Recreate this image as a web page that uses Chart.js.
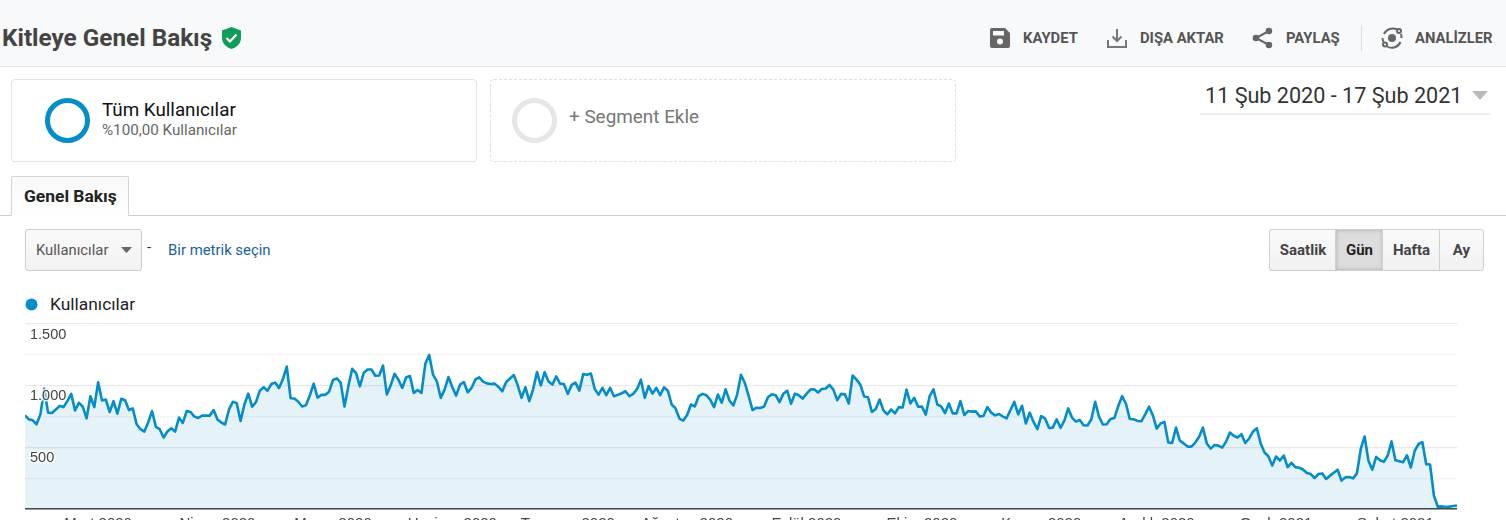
<!DOCTYPE html>
<html lang="tr">
<head>
<meta charset="utf-8">
<title>Kitleye Genel Bakış</title>
<script src="https://cdn.jsdelivr.net/npm/chart.js@4"></script>
<style>
html,body{margin:0;padding:0;width:1506px;height:520px;overflow:hidden;background:#fff;font-family:Roboto,sans-serif;}
.a{position:absolute;white-space:nowrap;}
.hdr{left:0;top:0;width:1506px;height:66px;background:#f8f9fa;border-bottom:1px solid #e4e4e4;}
.act{font-weight:700;font-size:14.8px;color:#555;top:30px;line-height:17px;}
.box{box-sizing:border-box;border-radius:4px;}
.btn{box-sizing:border-box;top:229px;height:42px;line-height:40px;text-align:center;font-weight:700;font-size:15px;color:#444;background:linear-gradient(#fafafa,#f1f1f1);border:1px solid #d0d0d0;}
canvas{position:absolute;left:25px;top:310px;}
</style>
</head>
<body>
<div class="a hdr"></div>
<div class="a" style="left:2px;top:23px;font-size:24.3px;font-weight:700;color:#444;line-height:30px;">Kitleye Genel Bakış</div>
<svg class="a" style="left:221px;top:26px" width="21" height="24" viewBox="0 0 21 24"><path d="M10.5 1 L20 4.5 V12 C20 17.5 15.5 21.5 10.5 23 C5.5 21.5 1 17.5 1 12 V4.5 Z" fill="#0f9d58"/><path d="M5.5 12 L9 15.5 L15.5 8.5" fill="none" stroke="#fff" stroke-width="2.2"/></svg>

<svg class="a" style="left:990px;top:28px" width="20" height="20" viewBox="0 0 20 20"><path d="M2 0 H15 L20 5 V18 a2 2 0 0 1 -2 2 H2 a2 2 0 0 1 -2 -2 V2 a2 2 0 0 1 2 -2 Z" fill="#666"/><rect x="3" y="3" width="11" height="4.5" fill="#f8f9fa"/><circle cx="10" cy="13.5" r="3" fill="#f8f9fa"/></svg>
<div class="a act" style="left:1023px">KAYDET</div>
<svg class="a" style="left:1107px;top:28px" width="20" height="20" viewBox="0 0 20 20" fill="none" stroke="#777" stroke-width="2"><path d="M10 1 V13 M5.5 8.5 L10 13 L14.500 8.500"/><path d="M1 12 V19 H19 V12"/></svg>
<div class="a act" style="left:1140px">DIŞA AKTAR</div>
<svg class="a" style="left:1252px;top:27px" width="21" height="22" viewBox="0 0 21 22"><path d="M17 4 L4 11 L17 18" fill="none" stroke="#666" stroke-width="2"/><circle cx="17" cy="4" r="3.300" fill="#666"/><circle cx="4" cy="11" r="3.300" fill="#666"/><circle cx="17" cy="18" r="3.300" fill="#666"/></svg>
<div class="a act" style="left:1286px">PAYLAŞ</div>
<div class="a" style="left:1361px;top:25px;width:1px;height:26px;background:#ddd"></div>
<svg class="a" style="left:1381px;top:27px" width="22" height="22" viewBox="0 0 22 22" fill="none" stroke="#666" stroke-width="2"><path d="M3 7 A9.500 9.500 0 0 1 16 2.500"/><path d="M19.500 15 A9.500 9.500 0 0 1 6 19.500"/><path d="M1.500 11 A9.500 9.500 0 0 0 2.500 15"/><path d="M20.500 11 A9.500 9.500 0 0 0 20 7"/><circle cx="11" cy="11" r="4" fill="#666" stroke="none"/><circle cx="18" cy="4" r="2"/><circle cx="4" cy="17.500" r="2"/></svg>
<div class="a act" style="left:1415px">ANALİZLER</div>

<div class="a box" style="left:11px;top:79px;width:466px;height:83px;border:1px solid #e2e2e2"></div>
<svg class="a" style="left:45px;top:98px" width="46" height="46"><circle cx="22.500" cy="22.500" r="20" fill="none" stroke="#058dc7" stroke-width="5"/></svg>
<div class="a" style="left:102px;top:99px;font-size:18.8px;line-height:22px;color:#111">Tüm Kullanıcılar</div>
<div class="a" style="left:102px;top:121px;font-size:15.2px;line-height:18px;color:#666">%100,00 Kullanıcılar</div>
<div class="a box" style="left:490px;top:79px;width:466px;height:83px;border:1px dashed #e0e0e0"></div>
<svg class="a" style="left:512px;top:98px" width="46" height="46"><circle cx="22.500" cy="22.500" r="20" fill="none" stroke="#e6e6e6" stroke-width="5"/></svg>
<div class="a" style="left:569px;top:106px;font-size:18.9px;line-height:22px;color:#777">+ Segment Ekle</div>

<div class="a" style="left:1205px;top:82px;font-size:21.6px;line-height:28px;color:#333">11 Şub 2020 - 17 Şub 2021</div>
<svg class="a" style="left:1472px;top:91px" width="16" height="10"><path d="M0 0 H16 L8 9 Z" fill="#bbb"/></svg>
<div class="a" style="left:1200px;top:113px;width:290px;height:1.500px;background:#eee"></div>

<div class="a" style="left:0;top:215px;width:1506px;height:1px;background:#ccc"></div>
<div class="a box" style="left:11px;top:176px;width:118px;height:40px;background:linear-gradient(#f8f8f8,#fff);border:1px solid #d5d5d5;border-bottom:none;border-radius:2px 2px 0 0"></div>
<div class="a" style="left:24px;top:186px;font-size:17.4px;line-height:20px;font-weight:700;color:#222">Genel Bakış</div>

<div class="a box" style="left:25px;top:229px;width:117px;height:42px;background:linear-gradient(#fafafa,#f2f2f2);border:1px solid #ccc;border-radius:3px"></div>
<div class="a" style="left:36px;top:241px;font-size:14.8px;line-height:18px;color:#555">Kullanıcılar</div>
<svg class="a" style="left:121px;top:247px" width="11" height="6"><path d="M0 0 H11 L5.500 6 Z" fill="#666"/></svg>
<div class="a" style="left:147px;top:238px;font-size:15px;line-height:18px;color:#333">-</div>
<div class="a" style="left:168px;top:241px;font-size:14.9px;line-height:18px;color:#1a5f9e">Bir metrik seçin</div>

<div class="a btn" style="left:1269px;width:67px;border-radius:3px 0 0 3px;border-right:none">Saatlik</div>
<div class="a btn" style="left:1335px;width:48px;background:#ddd;box-shadow:inset 0 0 4px #aaa;color:#222;border-right:none">Gün</div>
<div class="a btn" style="left:1382px;width:58px;border-right:none">Hafta</div>
<div class="a btn" style="left:1439px;width:45px;border-radius:0 3px 3px 0">Ay</div>

<svg class="a" style="left:25px;top:298px" width="13" height="13"><circle cx="6.500" cy="6.500" r="6" fill="#058dc7"/></svg>
<div class="a" style="left:50px;top:294px;font-size:17.4px;line-height:20px;color:#222">Kullanıcılar</div>

<canvas id="c" width="1432" height="230" role="img" aria-label="Kullanıcılar"></canvas>
<script>
const seriesName = 'Kullanıcılar';
const monthNames = ['Ocak','Şubat','Mart','Nisan','Mayıs','Haziran','Temmuz','Ağustos','Eylül','Ekim','Kasım','Aralık'];
const yTickLabels = {500:'500',1000:'1.000',1500:'1.500'};
const kullanicilar = [
758,726,718,686,766,974,780,777,806,833,825,873,932,798,860,828,734,913,825,1025,
878,886,785,873,772,892,881,801,814,686,646,627,700,793,665,646,579,627,654,627,
740,697,793,785,748,737,756,756,756,801,724,700,684,806,868,857,713,846,934,828,
865,958,985,958,1012,1023,980,1052,1153,897,894,868,830,841,921,1015,902,924,924,950,
1044,1057,1023,830,993,1135,1100,993,1103,1129,1129,1079,1081,
1161,926,1001,1095,1047,980,1065,1076,940,964,940,1177,1247,1087,1033,900,966,1068,988,918,
1007,1028,945,980,1049,1065,1031,1017,1012,1015,988,953,1028,1057,1084,1001,900,985,873,969,
1108,1001,1108,1033,1007,1073,1015,1012,932,1004,1023,958,1092,1087,1097,972,926,980,921,980,
913,924,937,953,913,932,972,1047,900,996,934,980,921,985,958,846,814,732,716,761,
846,830,913,932,921,886,825,926,860,969,878,838,926,1087,1020,913,801,820,
817,830,905,929,921,865,932,958,852,934,921,894,932,966,969,943,972,975,1004,966,
881,932,929,854,1081,1047,1007,910,905,785,809,886,798,766,806,774,825,822,966,854,
900,828,830,764,913,969,846,830,777,854,774,774,873,761,793,788,790,750,753,825,
780,758,769,750,734,801,868,766,836,692,780,705,646,753,732,657,659,726,657,716,
814,740,708,721,678,676,724,868,748,684,686,729,737,833,913,852,729,726,713,
710,766,828,758,651,692,705,539,534,659,553,531,505,505,537,585,659,531,489,518,
513,497,545,619,593,579,606,534,571,627,654,531,457,427,352,425,392,433,339,374,
339,334,320,291,283,251,283,288,243,270,294,318,230,256,259,248,288,486,587,390,
318,422,395,382,433,547,395,387,379,435,336,470,526,542,363,360,109,19,21,16,
19,24,29
];

const categories = [];
const startDay = new Date(Date.UTC(2020,1,11));
kullanicilar.forEach((_, i) => categories.push(new Date(startDay.getTime() + i*86400000)));

new Chart(document.getElementById('c'), {
  type: 'line',
  data: {
    labels: categories,
    datasets: [{
      label: seriesName,
      data: kullanicilar,
      borderColor: '#058dc7',
      borderWidth: 2.6,
      backgroundColor: 'rgba(5,141,199,0.105)',
      fill: 'origin',
      pointRadius: 0,
      tension: 0,
      borderJoinStyle: 'round'
    }]
  },
  options: {
    responsive: false,
    animation: false,
    layout: {padding: {top: 11.7, left: 0, right: 0, bottom: 0}},
    plugins: {legend: {display: false}, tooltip: {enabled: false}},
    scales: {
      x: {
        type: 'category',
        offset: false,
        afterFit: s => { s.height = 31; },
        grid: {display: false, drawTicks: false},
        border: {display: true, color: '#444', width: 1.5},
        ticks: {
          autoSkip: false, maxRotation: 0, minRotation: 0, padding: 6,
          font: {family: 'Liberation Sans, Arial, sans-serif', size: 15}, color: '#444',
          callback(v) {
            const d = categories[v];
            return d.getUTCDate() === 1 ? monthNames[d.getUTCMonth()] + ' ' + d.getUTCFullYear() : null;
          }
        }
      },
      y: {
        min: 0, max: 1500,
        afterFit: s => { s.width = 0; },
        grid: {
          drawTicks: false,
          color: c => c.tick.value % 500 === 0 ? '#e9e9e9' : '#f4f4f4',
          lineWidth: 1.2
        },
        border: {display: false},
        ticks: {
          stepSize: 250, mirror: true, padding: 5, labelOffset: 11, z: 1,
          font: {family: 'Liberation Sans, Arial, sans-serif', size: 14.5}, color: '#444',
          textStrokeColor: 'rgba(255,255,255,0.85)', textStrokeWidth: 3,
          callback: v => yTickLabels[v] || ''
        }
      }
    }
  }
});
</script>
</body>
</html>
